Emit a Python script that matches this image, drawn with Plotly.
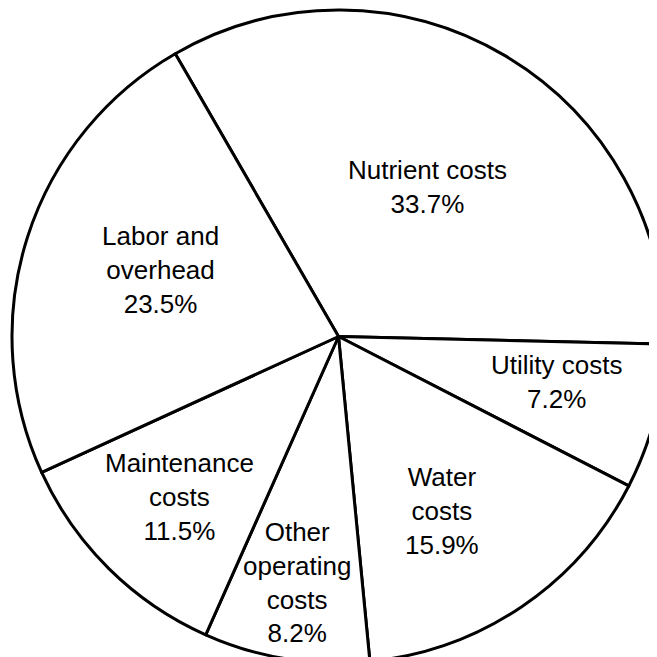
import plotly.graph_objects as go

# cost shares, clockwise from the Labor/Nutrient boundary
categories = ["Nutrient costs", "Utility costs", "Water costs",
              "Other operating costs", "Maintenance costs", "Labor and overhead"]
shares = [33.7, 7.2, 15.9, 8.2, 11.5, 23.5]
# how each label is broken over lines in the drawing
label_lines = ["Nutrient costs", "Utility costs", "Water<br>costs",
               "Other<br>operating<br>costs", "Maintenance<br>costs", "Labor and<br>overhead"]

W = H = 657
OFF = 8  # the page body margin pushes the plot 8px right and down

fig = go.Figure(go.Pie(
    labels=categories,
    values=shares,
    sort=False,
    direction="clockwise",
    rotation=-30,
    textinfo="none",
    hoverinfo="label+value",
    marker=dict(colors=["white"] * len(shares), line=dict(color="black", width=3)),
    domain=dict(x=[4 / W, 1], y=[0, 1]),
    showlegend=False,
))

# label centres in page pixels (middle of each text block)
label_pos = [(427, 187), (556, 382), (442, 511), (297, 582), (179, 497), (160, 270)]

for txt, val, (px, py) in zip(label_lines, shares, label_pos):
    fig.add_annotation(
        xref="paper", yref="paper",
        x=(px - OFF) / W, y=1 - (py - OFF) / H,
        text=f"{txt}<br>{val}%",
        showarrow=False,
        align="center",
        xanchor="center", yanchor="middle",
        font=dict(family="Liberation Sans, Arial, sans-serif", size=26, color="black"),
    )

fig.update_layout(
    width=W, height=H,
    margin=dict(l=0, r=0, t=0, b=0),
    paper_bgcolor="white",
    plot_bgcolor="white",
)

fig.write_html("out.html")
